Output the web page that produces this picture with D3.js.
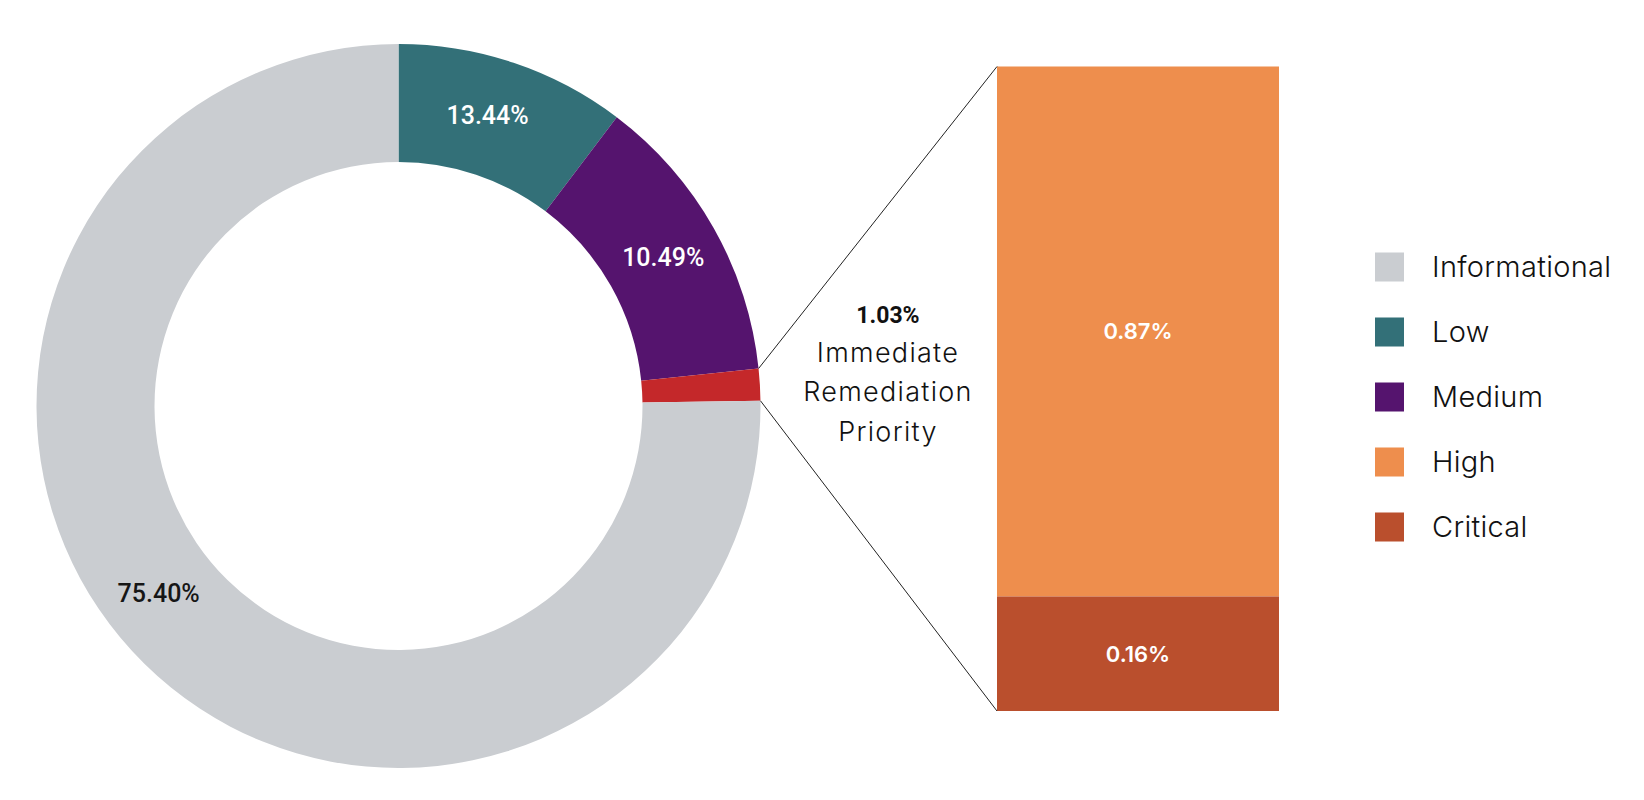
<!DOCTYPE html>
<html>
<head>
<meta charset="utf-8">
<script src="https://cdn.jsdelivr.net/npm/d3@7"></script>
<style>
  html, body { margin: 0; padding: 0; background: #ffffff; }
  svg { display: block; }
</style>
</head>
<body>
<svg id="chart" width="1644" height="800"></svg>
<script>
// ---------------- DATA ----------------
// Ring slices, clockwise from 12 o'clock
const ringNames  = ["Low", "Medium", "Immediate", "Informational"];
// arc sizes as drawn in the picture (share of the full circle, %)
const ringSizes  = [10.3, 13.05, 1.42, 75.23];
const ringLabels = ["13.44%", "10.49%", "", "75.40%"];

// Breakdown bar of the immediate-remediation slice (top to bottom)
const barNames  = ["High", "Critical"];
const barSizes  = [0.87, 0.188];   // heights as drawn
const barLabels = ["0.87%", "0.16%"];

const calloutValue = "1.03%";
const calloutLines = ["Immediate", "Remediation", "Priority"];

const legendNames = ["Informational", "Low", "Medium", "High", "Critical"];

const colors = {
  Informational: "#CACDD1",
  Low: "#337078",
  Medium: "#55146E",
  Immediate: "#C4282A",
  High: "#EE8E4D",
  Critical: "#BA4F2D"
};

// ---------------- LAYOUT ----------------
const svg = d3.select("#chart");
const cx = 398.5, cy = 406, rOuter = 362, rInner = 244;

const pie = d3.pie().sort(null).value(d => d.size);
const ringData = ringNames.map((n, i) => ({ name: n, size: ringSizes[i], label: ringLabels[i] }));
const arcs = pie(ringData);
const arc = d3.arc().innerRadius(rInner).outerRadius(rOuter);

const ring = svg.append("g").attr("transform", `translate(${cx},${cy})`);
ring.selectAll("path").data(arcs).join("path")
  .attr("d", arc)
  .attr("fill", d => colors[d.data.name]);

// label positions: centroid, with the informational label nudged along the ring
const labelShift = { Informational: 7.5 * Math.PI / 180, Low: -1.5 * Math.PI / 180 };
const rMid = (rInner + rOuter) / 2 + 1;
ring.selectAll("text.slice").data(arcs.filter(d => d.data.label)).join("text")
  .attr("class", "slice")
  .attr("x", d => {
    const a = (d.startAngle + d.endAngle) / 2 + (labelShift[d.data.name] || 0);
    return rMid * Math.sin(a);
  })
  .attr("y", d => {
    const a = (d.startAngle + d.endAngle) / 2 + (labelShift[d.data.name] || 0);
    return -rMid * Math.cos(a);
  })
  .attr("dy", "0.36em")
  .attr("text-anchor", "middle")
  .attr("font-family", "Roboto, sans-serif")
  .attr("font-weight", 500)
  .attr("font-size", 25)
  .attr("fill", d => d.data.name === "Informational" ? "#161616" : "#ffffff")
  .text(d => d.data.label);

// ---------------- BAR ----------------
const barX0 = 997, barX1 = 1279;
const barTotal = d3.sum(barSizes);
const y = d3.scaleLinear().domain([0, barTotal]).range([66.5, 711]);
const cum = d3.cumsum(barSizes);
const barData = barNames.map((n, i) => ({ name: n, y0: cum[i] - barSizes[i], y1: cum[i], label: barLabels[i] }));

const bar = svg.append("g");
bar.selectAll("rect").data(barData).join("rect")
  .attr("x", barX0)
  .attr("width", barX1 - barX0)
  .attr("y", d => y(d.y0))
  .attr("height", d => y(d.y1) - y(d.y0))
  .attr("fill", d => colors[d.name]);

bar.selectAll("text").data(barData).join("text")
  .attr("x", (barX0 + barX1) / 2)
  .attr("y", d => (y(d.y0) + y(d.y1)) / 2)
  .attr("dy", "0.36em")
  .attr("text-anchor", "middle")
  .attr("font-family", "Inter, sans-serif")
  .attr("font-weight", 600)
  .attr("font-size", 22)
  .attr("fill", "#ffffff")
  .text(d => d.label);

// ---------------- CONNECTORS ----------------
const imm = arcs.find(d => d.data.name === "Immediate");
const pt = a => [cx + rOuter * Math.sin(a), cy - rOuter * Math.cos(a)];
const pTop = pt(imm.startAngle), pBot = pt(imm.endAngle);
svg.append("line")
  .attr("x1", pTop[0]).attr("y1", pTop[1])
  .attr("x2", barX0).attr("y2", y(0))
  .attr("stroke", "#222").attr("stroke-width", 1);
svg.append("line")
  .attr("x1", pBot[0]).attr("y1", pBot[1])
  .attr("x2", barX0).attr("y2", y(barTotal))
  .attr("stroke", "#222").attr("stroke-width", 1);

// ---------------- CALLOUT ----------------
const calloutX = 888;
const callout = svg.append("g");
callout.append("text")
  .attr("x", calloutX).attr("y", 323)
  .attr("text-anchor", "middle")
  .attr("font-family", "Roboto, sans-serif")
  .attr("font-weight", 700)
  .attr("font-size", 23)
  .attr("fill", "#111")
  .text(calloutValue);
callout.selectAll("text.line").data(calloutLines).join("text")
  .attr("class", "line")
  .attr("x", calloutX)
  .attr("y", (d, i) => 362 + i * 39.3)
  .attr("text-anchor", "middle")
  .attr("font-family", "Inter, sans-serif")
  .attr("font-weight", 300)
  .attr("font-size", 27)
  .attr("letter-spacing", 1.3)
  .attr("fill", "#111")
  .text(d => d);

// ---------------- LEGEND ----------------
const ly = d3.scalePoint().domain(legendNames).range([267, 527]);
const legend = svg.append("g");
const items = legend.selectAll("g").data(legendNames).join("g")
  .attr("transform", d => `translate(1375,${ly(d)})`);
items.append("rect")
  .attr("x", 0).attr("y", -14.5)
  .attr("width", 29).attr("height", 29)
  .attr("fill", d => colors[d]);
items.append("text")
  .attr("x", 57).attr("y", 0)
  .attr("dy", "0.36em")
  .attr("font-family", "Inter, sans-serif")
  .attr("font-weight", 300)
  .attr("font-size", 29)
  .attr("letter-spacing", 0.3)
  .attr("fill", "#111")
  .text(d => d);
</script>
</body>
</html>
